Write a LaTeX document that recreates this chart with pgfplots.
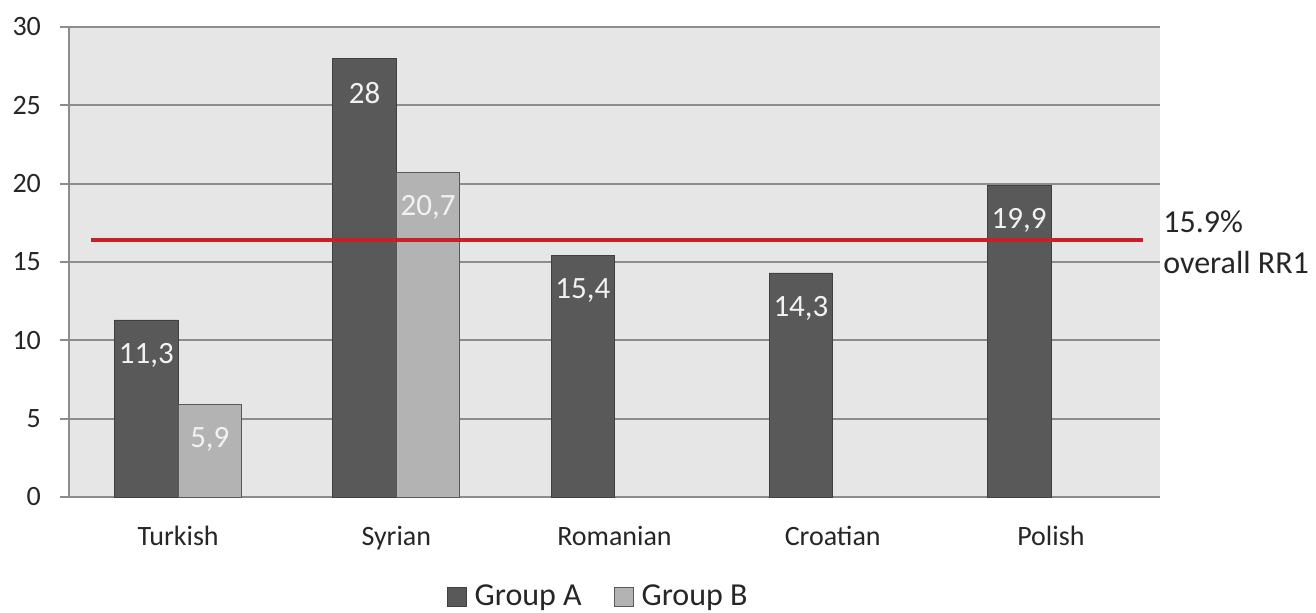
\documentclass[border=0pt]{standalone}
\usepackage{fontspec}
\setmainfont{Carlito}
\usepackage{pgfplots}
\pgfplotsset{compat=1.18}
\definecolor{barA}{HTML}{595959}
\definecolor{barB}{HTML}{B3B3B3}
\definecolor{gridc}{HTML}{8C8C8C}
\definecolor{bgc}{HTML}{E6E6E6}
\definecolor{txt}{HTML}{262626}
\definecolor{redl}{HTML}{C8202A}
\begin{document}
\begin{tikzpicture}
\begin{axis}[
  scale only axis,
  width=545.5pt, height=235pt,
  xmin=-0.5, xmax=4.5, ymin=0, ymax=30,
  ybar=0pt, bar width=31.75pt,
  axis background/.style={fill=bgc},
  axis x line*=bottom, axis y line*=left,
  axis line style={gridc, line width=0.9pt, -},
  ymajorgrids, grid style={gridc, line width=0.9pt},
  ytick={0,5,...,30},
  xtick={0,1,2,3,4},
  xticklabels={Turkish,Syrian,Romanian,Croatian,Polish},
  x tick style={draw=none},
  extra x ticks={-0.5,0.5,1.5,2.5,3.5,4.5},
  extra x tick labels={},
  extra x tick style={tick style={draw=gridc, line width=0.9pt}, major tick length=5pt, tick align=outside, grid=none},
  y tick style={gridc, line width=0.9pt},
  major tick length=4.5pt, tick align=outside,
  ticklabel style={font=\fontsize{14}{16}\selectfont, text=txt},
  /pgf/number format/assume math mode=true,
  xticklabel style={yshift=-6.5pt},
  yticklabel style={xshift=-6pt},
  clip=false,
  legend style={at={(0.486,-0.212)}, anchor=center, draw=none, fill=none,
    legend columns=2, font=\fontsize{16}{18}\selectfont, text=txt,
    /tikz/every even column/.append style={column sep=14pt},
    /tikz/every odd column/.append style={column sep=2pt}},
  legend image code/.code={\draw[#1] (0pt,-4.75pt) rectangle (9.5pt,4.75pt);},
]
\addplot[fill=barA, draw=black!75, nodes near coords,
  nodes near coords style={font=\fontsize{15.5}{18}\selectfont, text=white!95!black, anchor=center, yshift=-17.5pt,
    /pgf/number format/.cd, use comma, fixed, precision=1}]
  coordinates {(0,11.3) (1,28) (2,15.4) (3,14.3) (4,19.9)};
\addplot[fill=barB, draw=black!65, nodes near coords,
  nodes near coords style={font=\fontsize{15.5}{18}\selectfont, text=white!95!black, anchor=center, yshift=-17.5pt,
    /pgf/number format/.cd, use comma, fixed, precision=1}]
  coordinates {(0,5.9) (1,20.7)};
\legend{Group A, Group B}
\addplot[redl, line width=1.8pt, forget plot, sharp plot, bar shift=0pt, fill=none] coordinates {(-0.4,16.4) (4.42,16.4)};
\coordinate (O) at (rel axis cs:0,0);
\node[anchor=west, text=txt, font=\fontsize{16}{18}\selectfont, inner sep=0pt] at (axis cs:4.5,17.55) {\hspace*{1.5pt}15.9\%};
\node[anchor=west, text=txt, font=\fontsize{16}{18}\selectfont, inner sep=0pt] at (axis cs:4.5,14.94) {\hspace*{1.5pt}overall RR1};
\end{axis}
\pgfresetboundingbox
\path (O) ++(-34.5pt,-58pt) rectangle ++(658pt,306.5pt);
\end{tikzpicture}
\end{document}
